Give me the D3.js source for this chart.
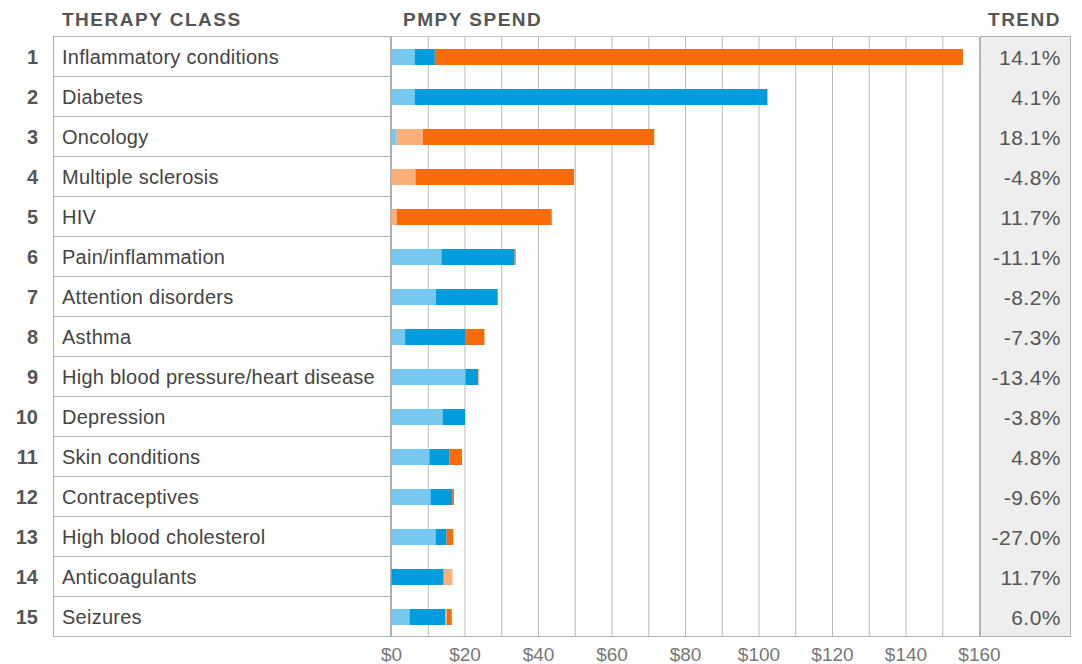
<!DOCTYPE html>
<html><head><meta charset="utf-8">
<script src="https://cdn.jsdelivr.net/npm/d3@7"></script>
<style>body{margin:0;background:#fff;}svg{display:block;font-family:"Liberation Sans",Arial,sans-serif;}</style>
</head><body><svg id="c" width="1082" height="664"></svg>
<script>
const categories = ["Inflammatory conditions","Diabetes","Oncology","Multiple sclerosis","HIV","Pain/inflammation","Attention disorders","Asthma","High blood pressure/heart disease","Depression","Skin conditions","Contraceptives","High blood cholesterol","Anticoagulants","Seizures"];
const seriesLightBlue  = [6.3, 6.3, 1.4, 0,   0,   13.6, 12.1, 3.7, 20.1, 13.9, 10.3, 10.6, 12.0, 0,    4.9];
const seriesBlue       = [5.5, 96.0,0,   0,   0,   19.9, 16.8, 16.5, 3.5, 6.1,  5.5,  5.9,  3.0,  14.2, 9.8];
const seriesLightOrange= [0,   0,   7.1, 6.5, 1.4, 0,    0,    0,   0.3,  0,    0,    0,    0,    2.4,  0.4];
const seriesOrange     = [143.7,0,  63.0,43.2,42.2,0.3,  0,    5.1, 0,    0,    3.4,  0.5,  1.8,  0,    1.3];
const trends = ["14.1%","4.1%","18.1%","-4.8%","11.7%","-11.1%","-8.2%","-7.3%","-13.4%","-3.8%","4.8%","-9.6%","-27.0%","11.7%","6.0%"];
const xTicks = [0,20,40,60,80,100,120,140,160];
const gridValues = d3.range(0,161,10);
const seriesKeys = ["lb","b","lo","o"];
const seriesColors = ["#76c8ee","#009cde","#fbb07a","#f76c07"];

const svg = d3.select("#c");
const topY = 37, rowH = 40, n = categories.length;
const x = d3.scaleLinear().domain([0,160]).range([391,979]);
const y = d3.scaleBand().domain(d3.range(n)).range([topY, topY+rowH*n]);

// gridlines
svg.append("g").selectAll("line").data(gridValues).join("line")
  .attr("x1",d=>x(d)+0.5).attr("x2",d=>x(d)+0.5).attr("y1",topY).attr("y2",topY+rowH*n)
  .attr("stroke","#b8b8b8").attr("stroke-width",1);
svg.append("line").attr("x1",x(0)).attr("x2",x(160)).attr("y1",topY-0.5).attr("y2",topY-0.5).attr("stroke","#c4c4c4");

// trend column
svg.append("rect").attr("x",980.5).attr("y",topY-0.5).attr("width",90).attr("height",rowH*n)
  .attr("fill","#eeeeee").attr("stroke","#b0b0b0");

// label boxes
svg.append("g").selectAll("rect").data(categories).join("rect")
  .attr("x",53.5).attr("y",(d,i)=>y(i)-0.5).attr("width",337).attr("height",rowH)
  .attr("fill","#fff").attr("stroke","#b0b0b0");

// bottom axis
const axis = d3.axisBottom(x).tickValues(xTicks).tickFormat(d=>"$"+d).tickSize(0).tickPadding(11);
const ag = svg.append("g").attr("transform",`translate(0,${topY+rowH*n-0.5})`).call(axis);
ag.select(".domain").remove();
ag.selectAll("text").attr("fill","#777").attr("font-size",19).attr("font-family","Liberation Sans, Arial, sans-serif");
svg.append("line").attr("x1",x(0)).attr("x2",1071).attr("y1",topY+rowH*n-0.5).attr("y2",topY+rowH*n-0.5).attr("stroke","#b0b0b0");
svg.append("line").attr("x1",x(0)+0.5).attr("x2",x(0)+0.5).attr("y1",topY).attr("y2",topY+rowH*n).attr("stroke","#b0b0b0");

// stacked bars
const rows = categories.map((c,i)=>({i, lb:seriesLightBlue[i], b:seriesBlue[i], lo:seriesLightOrange[i], o:seriesOrange[i]}));
const stack = d3.stack().keys(seriesKeys)(rows);
const barH = 16;
svg.append("g").selectAll("g").data(stack).join("g").attr("fill",(d,k)=>seriesColors[k])
  .selectAll("rect").data(d=>d).join("rect")
  .attr("x",d=>x(d[0])+0.5).attr("width",d=>Math.max(0,x(d[1])-x(d[0])))
  .attr("y",d=>y(d.data.i)+rowH/2-barH/2).attr("height",barH);

// row numbers
svg.append("g").selectAll("text").data(categories).join("text")
  .attr("x",38).attr("y",(d,i)=>y(i)+rowH/2).attr("dy","0.36em").attr("text-anchor","end")
  .attr("font-size",20).attr("font-weight","bold").attr("fill","#555").text((d,i)=>i+1);
// labels
svg.append("g").selectAll("text").data(categories).join("text")
  .attr("x",62).attr("y",(d,i)=>y(i)+rowH/2).attr("dy","0.36em")
  .attr("font-size",20).attr("letter-spacing","0.25px").attr("fill","#444").text(d=>d);
// trends
svg.append("g").selectAll("text").data(trends).join("text")
  .attr("x",1061).attr("y",(d,i)=>y(i)+rowH/2).attr("dy","0.36em").attr("text-anchor","end")
  .attr("font-size",21).attr("letter-spacing","0.5px").attr("fill","#555").text(d=>d);

// headers
const hdr = [{t:"THERAPY CLASS",x:62,a:"start"},{t:"PMPY SPEND",x:403,a:"start"},{t:"TREND",x:1061,a:"end"}];
svg.append("g").selectAll("text").data(hdr).join("text")
  .attr("x",d=>d.x).attr("y",26).attr("text-anchor",d=>d.a)
  .attr("font-size",19).attr("font-weight","bold").attr("letter-spacing","1.5px").attr("fill","#555").text(d=>d.t);
</script></body></html>
